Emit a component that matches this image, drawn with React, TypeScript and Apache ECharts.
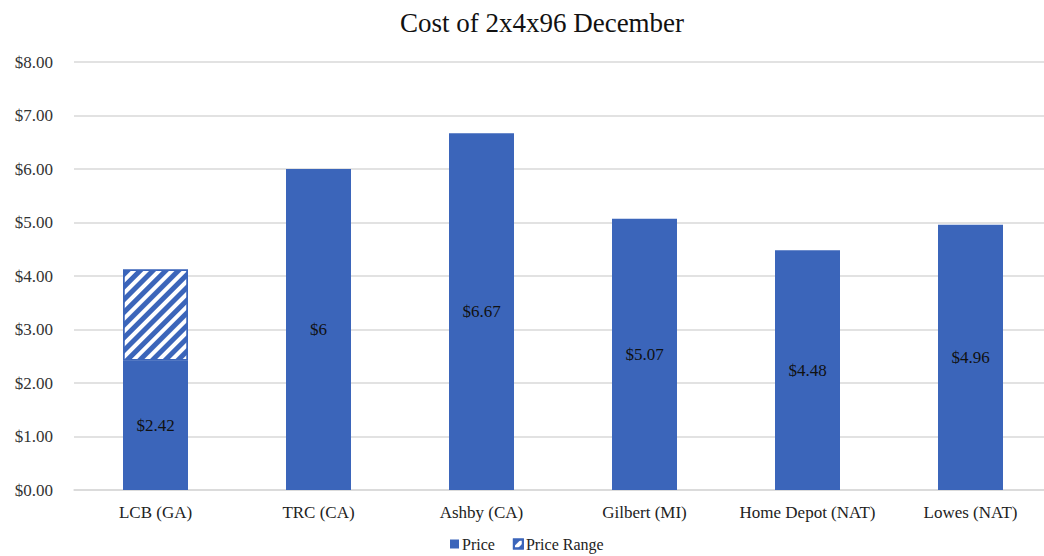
import React, { useEffect, useRef } from "react";
import * as echarts from "echarts";

const categories = ["LCB (GA)", "TRC (CA)", "Ashby (CA)", "Gilbert (MI)", "Home Depot (NAT)", "Lowes (NAT)"];
const priceValues = [2.42, 6, 6.67, 5.07, 4.48, 4.96];
const priceLabels = ["$2.42", "$6", "$6.67", "$5.07", "$4.48", "$4.96"];
const rangeValues = [1.7, null, null, null, null, null];
const yTicks = [0, 1, 2, 3, 4, 5, 6, 7, 8];

const BLUE = "#3B65BA";
const FONT = "'Liberation Serif', 'DejaVu Serif', serif";

export default function App() {
  const ref = useRef<HTMLDivElement>(null);
  useEffect(() => {
    if (!ref.current) return;
    const chart = echarts.init(ref.current, null, { renderer: "svg" });
    chart.setOption({
      animation: false,
      textStyle: { fontFamily: FONT },
      title: {
        text: "Cost of 2x4x96 December",
        left: 537,
        textAlign: "center",
        top: 4,
        textStyle: { fontFamily: FONT, fontSize: 27, fontWeight: "normal", color: "#111" },
      },
      legend: {
        top: 535,
        left: 450,
        padding: 0,
        itemWidth: 9,
        itemHeight: 9,
        itemGap: 18,
        icon: "rect",
        textStyle: { fontFamily: FONT, fontSize: 16, lineHeight: 18, color: "#222", padding: [0, 0, 0, -2] },
        data: ["Price", "Price Range"],
      },
      grid: { left: 74, right: 0, top: 62, bottom: 66, containLabel: false },
      xAxis: {
        type: "category",
        data: categories,
        axisLine: { lineStyle: { color: "#D9D9D9", width: 1.5 } },
        axisTick: { show: false },
        axisLabel: { fontFamily: FONT, fontSize: 17, color: "#222", margin: 14, interval: 0 },
      },
      yAxis: {
        type: "value",
        min: yTicks[0],
        max: yTicks[yTicks.length - 1],
        interval: 1,
        axisLine: { show: false },
        axisTick: { show: false },
        splitLine: { lineStyle: { color: "#D9D9D9", width: 1.5 } },
        axisLabel: {
          fontFamily: FONT,
          fontSize: 17,
          color: "#333",
          margin: 21,
          formatter: (v: number) => "$" + v.toFixed(2),
        },
      },
      series: [
        {
          name: "Price",
          type: "bar",
          stack: "p",
          barWidth: 65,
          data: priceValues,
          itemStyle: { color: BLUE },
          label: {
            show: true,
            position: "inside",
            fontFamily: FONT,
            fontSize: 17,
            color: "#111",
            formatter: (p: any) => priceLabels[p.dataIndex],
          },
        },
        {
          name: "Price Range",
          type: "bar",
          stack: "p",
          barWidth: 65,
          data: rangeValues,
          itemStyle: {
            color: "#ffffff",
            borderColor: BLUE,
            borderWidth: 1.5,
            decal: {
              symbol: "rect",
              color: BLUE,
              dashArrayX: [1, 0],
              dashArrayY: [5, 4],
              rotation: -Math.PI / 4,
            },
          },
        },
      ],
    });
    return () => chart.dispose();
  }, []);
  return (
    <div style={{ position: "fixed", left: 0, top: 0, width: 1044, height: 556, overflow: "hidden", background: "#fff" }}>
      <div ref={ref} style={{ width: 1052, height: 556 }} />
    </div>
  );
}
